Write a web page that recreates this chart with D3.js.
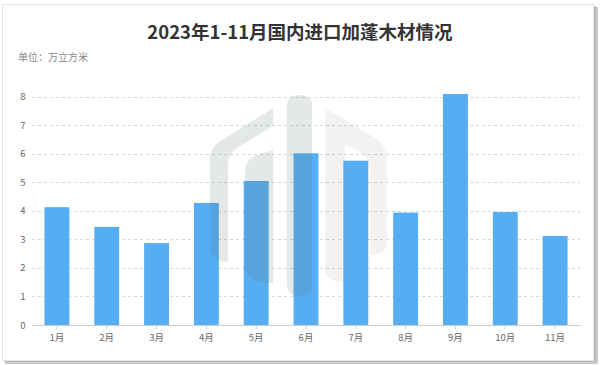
<!DOCTYPE html>
<html><head><meta charset="utf-8">
<script src="https://cdn.jsdelivr.net/npm/d3@7"></script>
<style>
html,body{margin:0;padding:0;background:#fff;}
svg{display:block;font-family:"Noto Sans CJK SC","Noto Sans",sans-serif;}
</style></head><body>
<svg id="c" width="600" height="365"></svg>
<script>
const title = "2023年1-11月国内进口加蓬木材情况";
const unitLabel = "单位：万立方米";
const months = ["1月","2月","3月","4月","5月","6月","7月","8月","9月","10月","11月"];
const values = [4.13, 3.44, 2.87, 4.28, 5.05, 6.02, 5.76, 3.94, 8.1, 3.96, 3.12];
const yTicks = [0,1,2,3,4,5,6,7,8];

const svg = d3.select("#c");
// card with shadow
svg.append("rect").attr("x",5).attr("y",7).attr("width",593).attr("height",357).attr("fill","#c8c8c8");
svg.append("rect").attr("x",4).attr("y",6).attr("width",592).attr("height",356).attr("fill","#a9a9a9").attr("opacity",0.5);
svg.append("rect").attr("x",2.5).attr("y",4.5).attr("width",591).attr("height",356).attr("fill","#fff").attr("stroke","#e2e2e2");

svg.append("text").attr("x",300).attr("y",39).attr("text-anchor","middle")
  .attr("font-size",18.5).attr("font-weight","bold").attr("fill","#333").text(title);
svg.append("text").attr("x",18).attr("y",61).attr("font-size",10).attr("fill","#888").text(unitLabel);

const x = d3.scaleBand().domain(months).range([32,580]).paddingInner(0.5).paddingOuter(0.25);
const y = d3.scaleLinear().domain([0,8]).range([325,96.8]);

// grid
const grid = svg.append("g");
grid.selectAll("line").data(yTicks.filter(d=>d>0)).join("line")
  .attr("x1",32).attr("x2",580).attr("y1",d=>Math.round(y(d))+0.5).attr("y2",d=>Math.round(y(d))+0.5)
  .attr("stroke","#d6d6d6").attr("stroke-dasharray","3,3");

// bars
svg.append("g").selectAll("rect").data(values).join("rect")
  .attr("x",(d,i)=>x(months[i])).attr("width",x.bandwidth())
  .attr("y",d=>y(d)).attr("height",d=>y(0)-y(d)).attr("fill","#56adf2");

// watermark
const wm = svg.append("g");
wm.append("path").attr("d","M210,160 Q210,146 222,140 L273,108 L273,126 L237,148 Q228,154 228,165 L228,262 Q214,262 210,250 Z")
  .attr("fill","#5a6e6e").attr("opacity",0.16);
wm.append("path").attr("d","M245,172 Q245,158 260,154 L273,150 L273,283 Q245,283 245,265 Z")
  .attr("fill","#5a6e6e").attr("opacity",0.16);
wm.append("path").attr("d","M287,105 Q287,95 299.5,95 Q312,95 312,105 L312,283 Q312,296 299.5,296 Q287,296 287,283 Z")
  .attr("fill","#5a6e6e").attr("opacity",0.16);
wm.append("path").attr("d","M325,108 L372,136 Q387,145 387,160 L387,240 Q387,253 375,255 L370,255 L370,170 Q370,158 360,152 L345,144 L345,282 Q325,282 325,270 Z")
  .attr("fill","#8a7060").attr("opacity",0.09);

// y labels
svg.append("g").selectAll("text").data(yTicks).join("text")
  .attr("x",23).attr("y",d=>y(d)+3.5).attr("text-anchor","middle")
  .attr("font-size",9.5).attr("fill","#666").text(d=>d);

// x axis
const xa = svg.append("g").attr("transform","translate(0,325)")
  .call(d3.axisBottom(x).tickSize(4).tickSizeOuter(0).tickPadding(5));
xa.select(".domain").attr("stroke","#ccc");
xa.selectAll(".tick line").attr("stroke","#ccc");
xa.selectAll(".tick text").attr("font-size",9.5).attr("fill","#666")
  .attr("font-family","\"Noto Sans CJK SC\",sans-serif");
</script>
</body></html>
